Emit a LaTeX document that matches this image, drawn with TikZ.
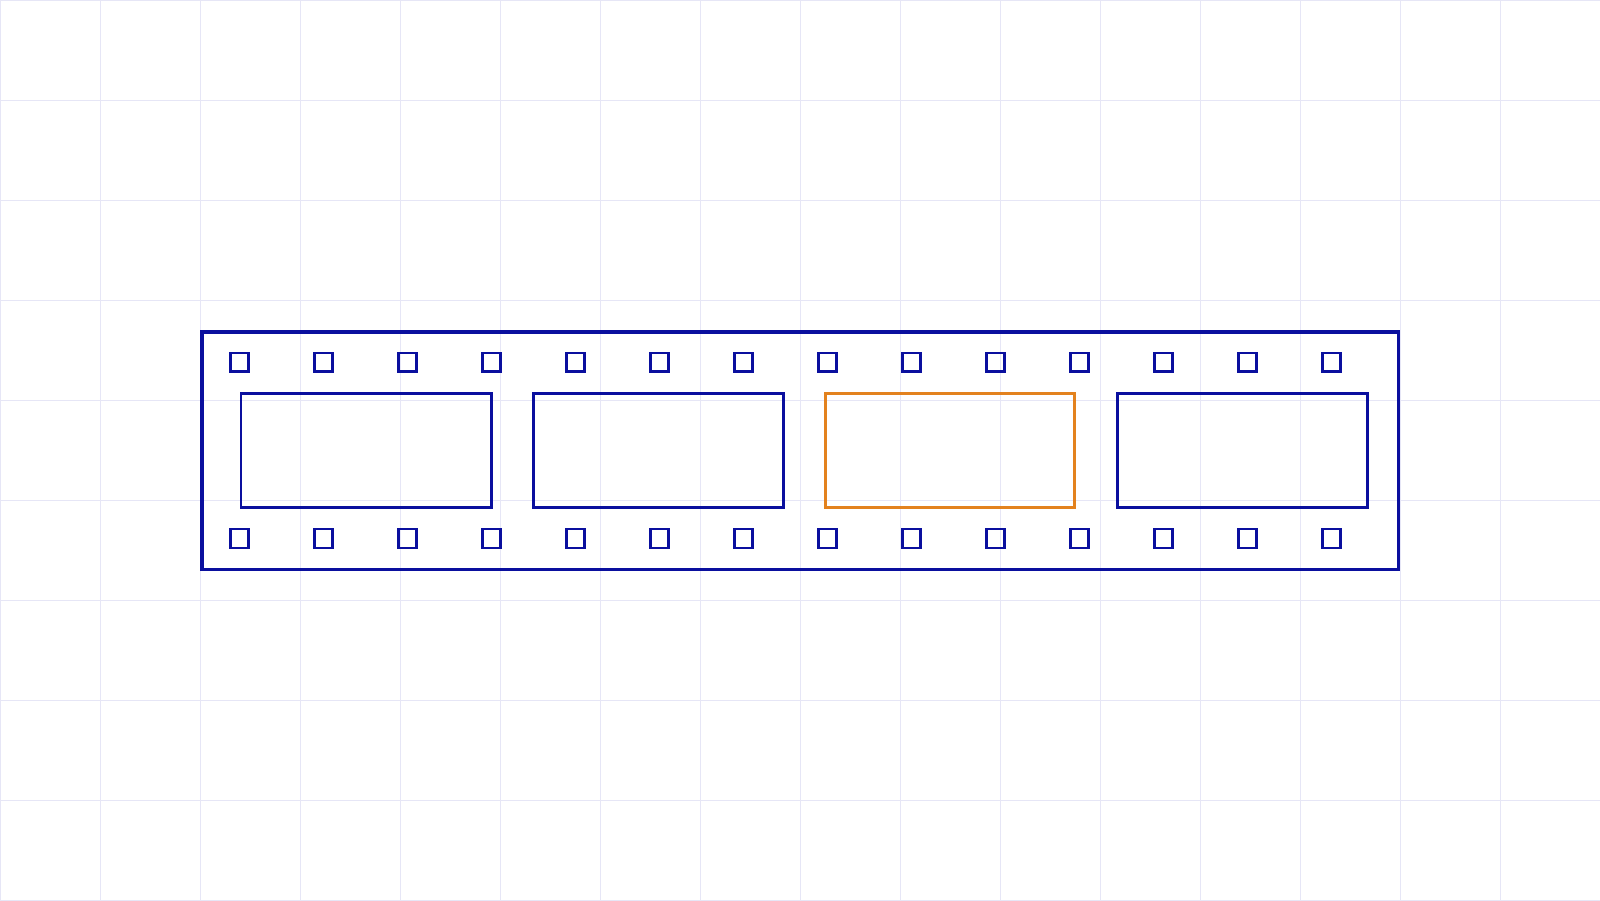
\documentclass[tikz,border=0pt]{standalone}
\definecolor{filmblue}{HTML}{0A0F9E}
\definecolor{filmorange}{HTML}{E3821E}
\definecolor{gridc}{HTML}{E6E6F6}
\begin{document}
\begin{tikzpicture}[x=1pt,y=-1pt,
  gridline/.style={draw=gridc,line width=1pt},
  outerframe/.style={draw=filmblue,line width=3.4pt},
  filmframe/.style={draw=filmblue,line width=2.7pt},
  hiframe/.style={draw=filmorange,line width=2.7pt},
  hole/.style={draw=filmblue,line width=2.05pt}]
\useasboundingbox (0,0) rectangle (1600,900);
\fill[white] (0,0) rectangle (1600,900);
\begin{scope}
\clip (0,0) rectangle (1600,900);
\foreach \x in {0,100,...,1600} \draw[gridline] (\x,0) -- (\x,900);
\foreach \y in {0,100,...,900} \draw[gridline] (0,\y) -- (1600,\y);
\end{scope}
\draw[outerframe] (202,332) rectangle (1398.5,569.2);
\draw[filmframe] (241,393.2) rectangle (491.3,507.5);
\draw[filmframe] (533.2,393.2) rectangle (783.3,507.5);
\draw[hiframe] (825.3,393.2) rectangle (1074.8,507.5);
\draw[filmframe] (1117.2,393.2) rectangle (1367.2,507.5);
\foreach \k in {0,...,13} {
  \draw[hole] ({230.5+84*\k},353) rectangle +(18,18.5);
  \draw[hole] ({230.5+84*\k},529.4) rectangle +(18,18.5);
}
\end{tikzpicture}
\end{document}
